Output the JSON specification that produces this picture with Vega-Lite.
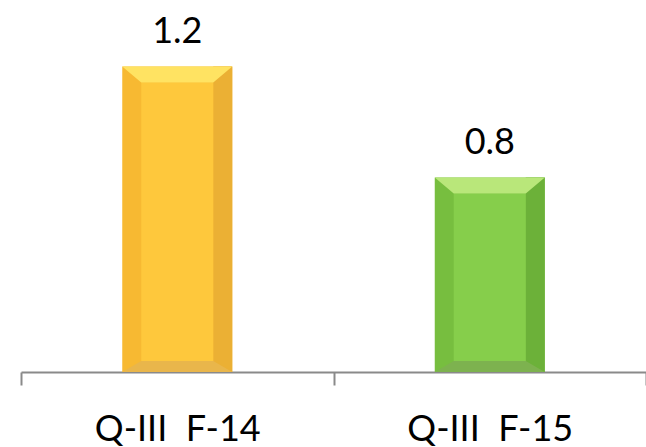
{
  "$schema": "https://vega.github.io/schema/vega-lite/v6.json",
  "width": 625,
  "height": 361,
  "padding": {"left": 21, "top": 11, "right": 0, "bottom": 75},
  "autosize": {"type": "none"},
  "config": {"view": {"stroke": null}, "font": "Lato"},
  "data": {"values": [
    {"quarter": "Q-III\u00a0 F-14", "value": 1.2},
    {"quarter": "Q-III\u00a0 F-15", "value": 0.8}
  ]},
  "encoding": {
    "x": {
      "field": "quarter", "type": "nominal", "sort": null,
      "scale": {"paddingInner": 0, "paddingOuter": 0},
      "axis": {
        "title": null, "labelAngle": 0,
        "domainColor": "#8A8A8A", "domainWidth": 2,
        "tickColor": "#8A8A8A", "tickWidth": 2, "tickSize": 13, "tickBand": "extent",
        "labelFont": "Lato", "labelFontSize": 36, "labelColor": "#000000", "labelPadding": 27
      }
    }
  },
  "layer": [
    {
      "mark": {"type": "bar", "width": 110},
      "encoding": {
        "y": {"field": "value", "type": "quantitative", "scale": {"domain": [0.1, 1.4], "zero": false}, "axis": null},
        "y2": {"datum": 0.1},
        "color": {"field": "quarter", "type": "nominal", "sort": null, "scale": {"range": ["#F7B932", "#77BE3F"]}, "legend": null}
      }
    },
    {
      "mark": {"type": "bar", "width": 19, "xOffset": 45.5},
      "encoding": {
        "y": {"field": "value", "type": "quantitative", "scale": {"domain": [0.1, 1.4], "zero": false}, "axis": null},
        "y2": {"datum": 0.1},
        "color": {"field": "quarter", "type": "nominal", "sort": null, "scale": {"range": ["#EBB034", "#6CB139"]}, "legend": null}
      }
    },
    {
      "mark": {"type": "bar", "width": 72, "yOffset": 16, "y2Offset": -11},
      "encoding": {
        "y": {"field": "value", "type": "quantitative", "scale": {"domain": [0.1, 1.4], "zero": false}, "axis": null},
        "y2": {"datum": 0.1},
        "color": {"field": "quarter", "type": "nominal", "sort": null, "scale": {"range": ["#FEC83C", "#86CE4B"]}, "legend": null}
      }
    },
    {
      "mark": {"type": "point", "filled": true, "opacity": 1, "strokeWidth": 0, "size": 12100, "shape": "M -1 0 L 1 0 L 0.655 0.29 L -0.655 0.29 Z"},
      "encoding": {
        "y": {"field": "value", "type": "quantitative", "scale": {"domain": [0.1, 1.4], "zero": false}, "axis": null},
        "color": {"field": "quarter", "type": "nominal", "sort": null, "scale": {"range": ["#FFE362", "#B9E77A"]}, "legend": null}
      }
    },
    {
      "mark": {"type": "point", "filled": true, "opacity": 1, "strokeWidth": 0, "size": 12100, "shape": "M -1 0 L 1 0 L 0.655 -0.2 L -0.655 -0.2 Z"},
      "encoding": {
        "y": {"datum": 0.1, "scale": {"domain": [0.1, 1.4], "zero": false}, "axis": null},
        "color": {"field": "quarter", "type": "nominal", "sort": null, "scale": {"range": ["#E9B64B", "#7DB24F"]}, "legend": null}
      }
    },
    {
      "mark": {"type": "text", "font": "Lato", "fontSize": 36, "color": "#000000", "baseline": "alphabetic", "dy": -24},
      "encoding": {
        "y": {"field": "value", "type": "quantitative", "scale": {"domain": [0.1, 1.4], "zero": false}, "axis": null},
        "text": {"field": "value", "type": "quantitative", "format": ".1f"}
      }
    }
  ],
  "resolve": {"scale": {"color": "independent"}}
}
